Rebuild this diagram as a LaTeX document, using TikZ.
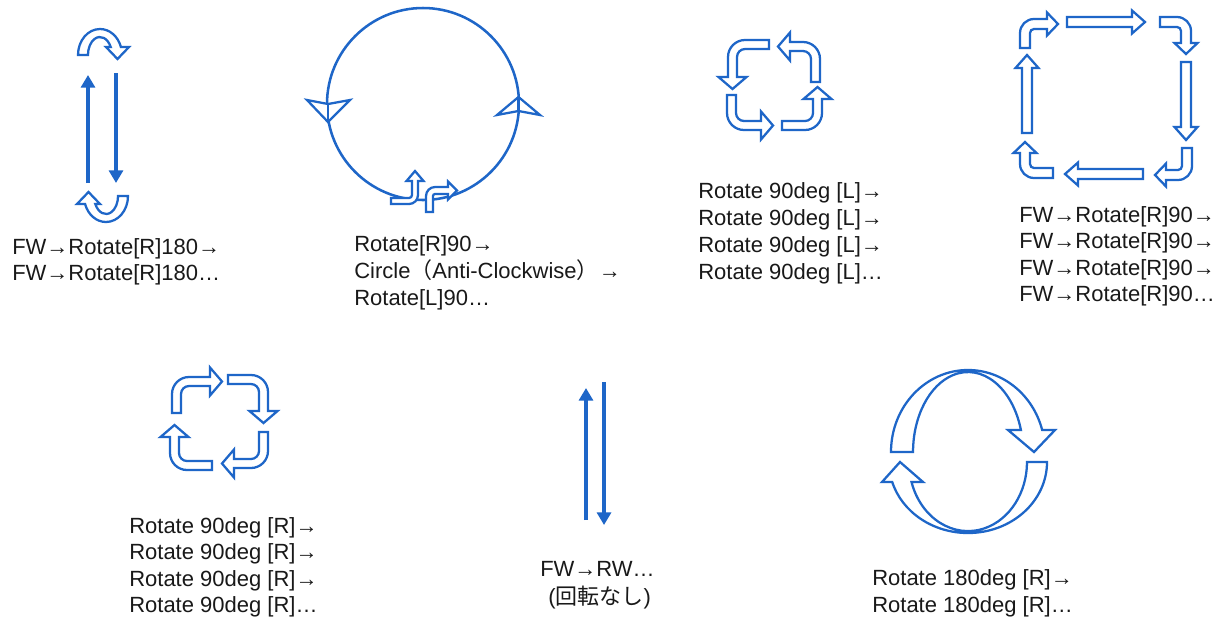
\documentclass[tikz,border=0pt]{standalone}
\usepackage{fontspec}
\setmainfont{Liberation Sans}
\newfontfamily\jpfont{Noto Sans CJK JP}
\usetikzlibrary{arrows.meta}
\definecolor{iconblue}{RGB}{30,102,200}
\tikzset{
  blk/.style={draw=iconblue, line width=1.7pt, fill=white, line join=miter},
  thinarr/.style={draw=iconblue, line width=2.6pt, -{Triangle[width=10.5pt,length=9.5pt]}},
  lbl/.style={anchor=base west, inner sep=0pt, font=\fontsize{16.5}{20}\selectfont, text=black!90}
}
% #1 transform, #2 band width, #3 outer radius, #4 height, #5 head start, #6 head half height, #7 head length
\newcommand\bentarr[7]{%
  \begin{scope}[#1]
    \draw[blk] (0,0) -- (0,{#4-#3}) arc[start angle=180,end angle=90,radius=#3]
      -- (#5,#4) -- (#5,{#4-#2/2+#6}) -- ({#5+#7},{#4-#2/2}) -- (#5,{#4-#2/2-#6})
      -- (#5,{#4-#2}) -- (#3,{#4-#2}) arc[start angle=90,end angle=180,radius={#3-#2}]
      -- (#2,0) -- cycle;
  \end{scope}}
% #1 transform, #2 length, #3 band width, #4 head half height, #5 head length
\newcommand\strarr[5]{%
  \begin{scope}[#1]
    \draw[blk] (0,{-#3/2}) -- ({#2-#5},{-#3/2}) -- ({#2-#5},-#4) -- (#2,0)
      -- ({#2-#5},#4) -- ({#2-#5},{#3/2}) -- (0,{#3/2}) -- cycle;
  \end{scope}}
\begin{document}
\begin{tikzpicture}[x=0.75pt,y=0.75pt]
\useasboundingbox (0,0) rectangle (1226,-619);
\fill[white] (0,0) rectangle (1226,-619);

% ---------- panel 1 ----------
\draw[blk] (78,-55) arc[start angle=180,end angle=17.9,x radius=22,y radius=26]
  -- (129,-47) -- (117.5,-59) -- (106,-47) -- (110.7,-47)
  arc[start angle=26.4,end angle=180,x radius=12,y radius=18] -- cycle;
\begin{scope}[rotate around={180:(103,-125.5)}]
\draw[blk] (78,-55) arc[start angle=180,end angle=17.9,x radius=22,y radius=26]
  -- (129,-47) -- (117.5,-59) -- (106,-47) -- (110.7,-47)
  arc[start angle=26.4,end angle=180,x radius=12,y radius=18] -- cycle;
\end{scope}
\coordinate (p1ua) at (88,-183); \coordinate (p1ub) at (88,-75);
\coordinate (p1da) at (116,-73); \coordinate (p1db) at (116,-183);
\draw[thinarr] (p1ua) -- (p1ub);
\draw[thinarr] (p1da) -- (p1db);
\node[lbl] (t1a) at (12,-254) {FW→Rotate[R]180→};
\node[lbl] (t1b) at (12,-280) {FW→Rotate[R]180…};

% ---------- panel 2 ----------
\draw[iconblue, line width=1.9pt] (423,-104) circle[radius=96];
\draw[blk] (307,-100) -- (328,-104) -- (350,-100) -- (328,-122) -- cycle;
\draw[iconblue, line width=1.9pt] (328,-104) -- (328,-122);
\draw[blk] (497,-115) -- (518.5,-111) -- (540,-115) -- (518.5,-97) -- cycle;
\draw[iconblue, line width=1.9pt] (518.5,-111) -- (518.5,-97);
\bentarr{shift={(391,-204)},rotate=-90,xscale=-1}{6}{9}{27}{23}{8.5}{10}
\bentarr{shift={(426,-212)}}{7}{9}{25}{22}{9}{9}
\node[lbl] (t2a) at (354,-251) {Rotate[R]90→};
\node[lbl] (t2b) at (354,-278) {Circle{\jpfont （}Anti-Clockwise{\jpfont ）}→};
\node[lbl] (t2c) at (354,-305) {Rotate[L]90…};

% ---------- panel 3 ----------
\bentarr{shift={(820,-82)},xscale=-1}{9}{17}{40}{30}{14}{12}
\bentarr{shift={(769,-40)},rotate=90,xscale=-1}{9}{17}{41}{37}{14}{12}
\bentarr{shift={(727,-95)},yscale=-1}{9}{17}{35}{34}{14}{12}
\bentarr{shift={(782,-130)},rotate=-90,xscale=-1}{9}{17}{40}{31}{14}{12}
\node[lbl] (t3a) at (698,-198) {Rotate 90deg [L]→};
\node[lbl] (t3b) at (698,-225) {Rotate 90deg [L]→};
\node[lbl] (t3c) at (698,-252) {Rotate 90deg [L]→};
\node[lbl] (t3d) at (698,-279) {Rotate 90deg [L]…};

% ---------- panel 4 ----------
\bentarr{shift={(1020,-48)}}{10}{14}{29}{27}{11.5}{11}
\strarr{shift={(1067,-22)}}{78}{10}{11.5}{13}
\bentarr{shift={(1160,-17)},rotate=-90}{10}{14}{31}{26}{11.5}{11}
\strarr{shift={(1186,-62)},rotate=-90}{78}{10}{11.5}{13}
\bentarr{shift={(1192,-148)},rotate=180}{10}{14}{32}{26}{11.5}{11}
\strarr{shift={(1143,-174)},rotate=180}{78}{10}{11.5}{13}
\bentarr{shift={(1053,-178)},rotate=90}{10}{14}{33}{25}{11.5}{11}
\strarr{shift={(1027,-133)},rotate=90}{78}{10}{11.5}{13}
\node[lbl] (t4a) at (1019,-222) {FW→Rotate[R]90→};
\node[lbl] (t4b) at (1019,-248) {FW→Rotate[R]90→};
\node[lbl] (t4c) at (1019,-275) {FW→Rotate[R]90→};
\node[lbl] (t4d) at (1019,-301) {FW→Rotate[R]90…};

% ---------- panel 5 ----------
\bentarr{shift={(172,-413)}}{9}{17}{36}{38}{14}{12}
\bentarr{shift={(228,-375)},rotate=-90}{9}{17}{40}{36}{14}{12}
\bentarr{shift={(268,-432)},rotate=180}{9}{17}{36}{34}{14}{12}
\bentarr{shift={(212,-470)},rotate=90}{9}{17}{42}{33}{14}{12}
\node[lbl] (t5a) at (129,-533) {Rotate 90deg [R]→};
\node[lbl] (t5b) at (129,-559) {Rotate 90deg [R]→};
\node[lbl] (t5c) at (129,-586) {Rotate 90deg [R]→};
\node[lbl] (t5d) at (129,-612) {Rotate 90deg [R]…};

% ---------- panel 6 ----------
\coordinate (p6ua) at (586,-520); \coordinate (p6ub) at (586,-388);
\coordinate (p6da) at (604,-382); \coordinate (p6db) at (604,-525);
\draw[thinarr] (p6ua) -- (p6ub);
\draw[thinarr] (p6da) -- (p6db);
\node[lbl] (t6a) at (540,-576) {FW→RW…};
\node[lbl] (t6b) at (548,-604) {({\jpfont 回転なし})};

% ---------- panel 7 ----------
\draw[blk] (891,-452) arc[start angle=180,end angle=15.6,x radius=77,y radius=82]
  -- (1055,-430) -- (1034,-452) -- (1008,-430) -- (1020.9,-430)
  arc[start angle=16,end angle=180,x radius=55,y radius=80] -- cycle;
\draw[blk] (1047,-462) arc[start angle=0,end angle=-163.6,x radius=79,y radius=71]
  -- (882,-482) -- (900,-462) -- (923,-482) -- (911.5,-482)
  arc[start angle=-163.2,end angle=0,x radius=59,y radius=69] -- cycle;
\node[lbl] (t7a) at (872,-585) {Rotate 180deg [R]→};
\node[lbl] (t7b) at (872,-612) {Rotate 180deg [R]…};
\end{tikzpicture}
\end{document}
